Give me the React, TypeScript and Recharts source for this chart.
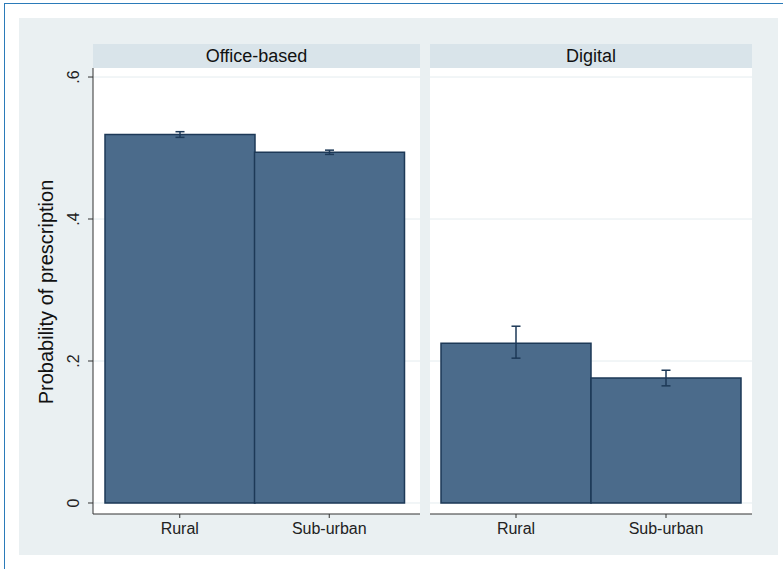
import { Bar, BarChart, CartesianGrid, ErrorBar, XAxis, YAxis } from "recharts";

const areas = ["Rural", "Sub-urban"];
const officeValues = [0.519, 0.494];
const officeErrors = [0.004, 0.003];
const digitalValues = [0.225, 0.176];
const digitalLow = [0.021, 0.011];
const digitalHigh = [0.024, 0.011];
const yTicks = [0, 0.2, 0.4, 0.6];
const yTickLabels = ["0", ".2", ".4", ".6"];

const officeData = areas.map((area, i) => ({
  area,
  value: officeValues[i],
  err: [officeErrors[i], officeErrors[i]],
}));
const digitalData = areas.map((area, i) => ({
  area,
  value: digitalValues[i],
  err: [digitalLow[i], digitalHigh[i]],
}));

const FONT = "'Liberation Sans', Arial, sans-serif";
const BAR_FILL = "#4b6b8b";
const BAR_LINE = "#1d3957";
const GRID = "#e4ecef";
const DOMAIN: [number, number] = [-0.0155, 0.6127];

function YTick({ x, y, payload }: any) {
  const idx = yTicks.indexOf(payload.value);
  return (
    <text
      x={x - 7}
      y={y}
      transform={`rotate(-90, ${x - 7}, ${y})`}
      textAnchor="middle"
      fontSize={16}
      fontFamily={FONT}
      fill="#222"
    >
      {yTickLabels[idx]}
    </text>
  );
}

function Panel({ data, withAxis }: { data: any[]; withAxis: boolean }) {
  const width = withAxis ? 400 : 322;
  return (
    <BarChart
      width={width}
      height={486}
      data={data}
      margin={{ top: 0, right: 0, bottom: 0, left: 0 }}
      barCategoryGap={0}
    >
      <CartesianGrid vertical={false} stroke={GRID} horizontalValues={yTicks} />
      <XAxis
        dataKey="area"
        height={40}
        padding={withAxis ? { left: 12, right: 16 } : { left: 11, right: 11 }}
        stroke="#333"
        tickSize={4}
        tick={{ fontSize: 16, fontFamily: FONT, fill: "#222", dy: 3 }}
      />
      <YAxis
        type="number"
        domain={DOMAIN}
        ticks={yTicks}
        allowDataOverflow
        width={withAxis ? 73 : 0}
        hide={!withAxis}
        stroke="#333"
        tickSize={5}
        tick={<YTick />}
      />
      <Bar dataKey="value" fill={BAR_FILL} stroke={BAR_LINE} strokeWidth={1.5} isAnimationActive={false}>
        <ErrorBar dataKey="err" width={4.5} stroke={BAR_LINE} strokeWidth={1.5} />
      </Bar>
    </BarChart>
  );
}

const headerStyle = {
  position: "absolute" as const,
  top: 44,
  height: 24,
  background: "#d9e4ea",
  fontFamily: FONT,
  fontSize: 18,
  color: "#111",
  textAlign: "center" as const,
  lineHeight: "24px",
};

export default function App() {
  return (
    <div style={{ position: "absolute", left: 0, top: 0, width: 783, height: 569, background: "#fff" }}>
      <div
        style={{
          position: "absolute",
          left: 4,
          top: 3,
          width: 790,
          height: 580,
          borderTop: "1.5px solid #2b7bb9",
          borderLeft: "1.5px solid #2b7bb9",
        }}
      />
      <div style={{ position: "absolute", left: 19, top: 18, width: 759, height: 537, background: "#eaf0f2" }} />
      <div style={{ ...headerStyle, left: 93, width: 327 }}>Office-based</div>
      <div style={{ ...headerStyle, left: 430, width: 322 }}>Digital</div>
      <div style={{ position: "absolute", left: 93, top: 68, width: 327, height: 446, background: "#fff" }} />
      <div style={{ position: "absolute", left: 430, top: 68, width: 322, height: 446, background: "#fff" }} />
      <div
        style={{
          position: "absolute",
          left: 46,
          top: 292,
          transform: "translate(-50%, -50%) rotate(-90deg)",
          whiteSpace: "nowrap",
          fontFamily: FONT,
          fontSize: 20,
          color: "#111",
        }}
      >
        Probability of prescription
      </div>
      <div style={{ position: "absolute", left: 20, top: 68 }}>
        <Panel data={officeData} withAxis />
      </div>
      <div style={{ position: "absolute", left: 430, top: 68 }}>
        <Panel data={digitalData} withAxis={false} />
      </div>
    </div>
  );
}
